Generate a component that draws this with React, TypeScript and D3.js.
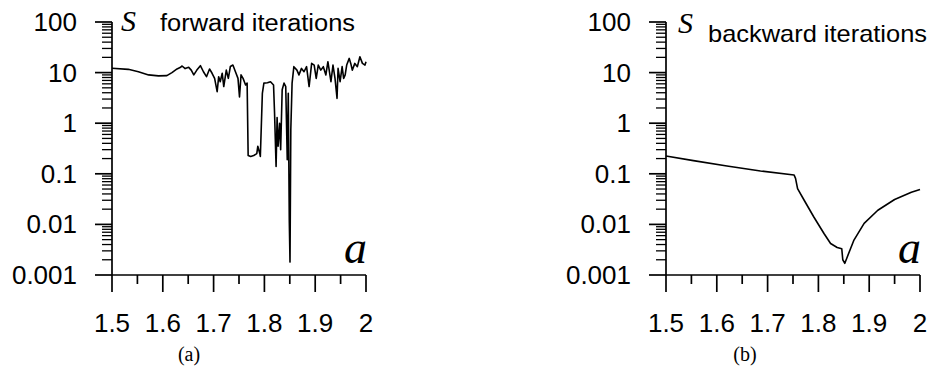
import React from "react";
import * as d3 from "d3";

// ---- data ----
const forwardA = [
  1.5, 1.532, 1.552, 1.572, 1.5915, 1.608, 1.618, 1.628, 1.634, 1.638, 1.644, 1.651, 1.656, 1.661, 1.667,
  1.674, 1.68, 1.686, 1.692, 1.697, 1.702, 1.707, 1.71, 1.713, 1.717, 1.72, 1.725, 1.729, 1.733,
  1.738, 1.743, 1.748, 1.751, 1.754, 1.758, 1.763, 1.766, 1.768, 1.773, 1.779, 1.785, 1.787, 1.791,
  1.792, 1.796, 1.799, 1.806, 1.812, 1.818, 1.82, 1.823, 1.825, 1.827, 1.83, 1.832, 1.835, 1.8386,
  1.842, 1.845, 1.847, 1.849, 1.8504, 1.852, 1.8545, 1.858, 1.864, 1.868, 1.873, 1.878, 1.883,
  1.888, 1.893, 1.898, 1.902, 1.906, 1.911, 1.916, 1.921, 1.925, 1.931, 1.935, 1.939, 1.943, 1.945,
  1.949, 1.953, 1.956, 1.959, 1.962, 1.967, 1.97, 1.973, 1.978, 1.983, 1.988, 1.993, 1.998, 2.0,
];
const forwardS = [
  12.2, 11.6, 10.4, 9.0, 8.6, 8.7, 10, 11.8, 12.6, 13.5, 12, 12.7, 11.2, 9.0, 11.2,
  13.7, 10.4, 8.3, 11.8, 9.7, 7.7, 4.2, 8.3, 6.6, 9.7, 5.3, 11.2, 7.7, 13.2,
  14.1, 10.4, 7.7, 3.3, 9.0, 7.7, 5.7, 6.2, 0.23, 0.22, 0.23, 0.25, 0.35, 0.25,
  0.22, 3.9, 6.2, 6.3, 6.6, 5.7, 1.57, 0.14, 1.3, 0.35, 1.0, 0.3, 4.6, 6.2,
  5.3, 0.19, 3.9, 0.012, 0.0018, 0.74, 6.2, 13.1, 11.2, 9.0, 12.1, 10.4, 13.1,
  5.3, 15.2, 14.1, 7.7, 14.1, 11.2, 13.1, 9.0, 16.4, 6.6, 14.1, 7.7, 3.1, 12.1,
  6.6, 13.1, 7.7, 9.0, 14.1, 19.1, 15.2, 11.2, 15.2, 13.1, 20.6, 15.2, 14.1, 16.4,
];

const backwardA = [
  1.5, 1.554, 1.62, 1.686, 1.752, 1.755, 1.759, 1.772, 1.791, 1.811, 1.824, 1.837, 1.846, 1.848,
  1.852, 1.857, 1.87, 1.89, 1.917, 1.95, 1.983, 2.0,
];
const backwardS = [
  0.225, 0.182, 0.143, 0.114, 0.095, 0.081, 0.051, 0.03, 0.014, 0.0066, 0.0042, 0.0035, 0.0033, 0.002,
  0.0017, 0.0023, 0.0049, 0.0105, 0.019, 0.031, 0.043, 0.049,
];

const xTickLabels = ["1.5", "1.6", "1.7", "1.8", "1.9", "2"];
const xMajor = [1.5, 1.6, 1.7, 1.8, 1.9, 2.0];
const xMinor = [1.55, 1.65, 1.75, 1.85, 1.95];
const yMajor = [0.001, 0.01, 0.1, 1, 10, 100];
const yTickLabels = ["0.001", "0.01", "0.1", "1", "10", "100"];

const panels = [
  { x0: 112, title: "forward iterations", titleX: 160, titleY: 31, titleSize: 23, titleLen: 195, sX: 121, sY: 31, label: "(a)", labelX: 189, a: forwardA, s: forwardS },
  { x0: 666, title: "backward iterations", titleX: 708, titleY: 42, titleSize: 24, titleLen: 219, sX: 678, sY: 33, label: "(b)", labelX: 745, a: backwardA, s: backwardS },
];

const W = 254;
const TOP = 22;
const BOTTOM = 275;

function Panel({ p }: { p: any }) {
  const x = d3.scaleLinear().domain([1.5, 2.0]).range([p.x0, p.x0 + W]);
  const y = d3.scaleLog().domain([0.001, 100]).range([BOTTOM, TOP]);
  const minorY = y.ticks().filter((v) => {
    const l = Math.log10(v);
    return Math.abs(l - Math.round(l)) > 1e-6;
  });
  const data = p.a.map((a: number, i: number) => [a, p.s[i]] as [number, number]);
  const line = d3
    .line<[number, number]>()
    .x((d) => x(d[0]))
    .y((d) => y(d[1]));
  const axisX = x(1.5);
  const sans = "'Liberation Sans', Arial, sans-serif";
  const serif = "'Liberation Serif', 'Times New Roman', serif";
  return (
    <g>
      {/* y axis */}
      {minorY.map((v, i) => (
        <line key={"yn" + i} x1={axisX - 10} x2={axisX} y1={y(v)} y2={y(v)} stroke="#000" strokeWidth={1.3} />
      ))}
      <line x1={axisX} x2={axisX} y1={y(100)} y2={y(0.001)} stroke="#000" strokeWidth={1.7} />
      {yMajor.map((v) => (
        <line key={"ym" + v} x1={axisX - 17} x2={axisX} y1={y(v)} y2={y(v)} stroke="#000" strokeWidth={1.7} />
      ))}
      {yMajor.map((v, i) => (
        <text key={"yl" + v} x={axisX - 35} y={y(v) + 9} textAnchor="end" fontFamily={sans} fontSize={26} fill="#000">
          {yTickLabels[i]}
        </text>
      ))}
      {/* x axis */}
      <line x1={axisX} x2={x(2.0)} y1={BOTTOM} y2={BOTTOM} stroke="#000" strokeWidth={1.7} />
      {xMajor.map((v) => (
        <line key={"xm" + v} x1={x(v)} x2={x(v)} y1={BOTTOM} y2={BOTTOM + 17} stroke="#000" strokeWidth={1.7} />
      ))}
      {xMinor.map((v) => (
        <line key={"xn" + v} x1={x(v)} x2={x(v)} y1={BOTTOM} y2={BOTTOM + 9} stroke="#000" strokeWidth={1.7} />
      ))}
      {xMajor.map((v, i) => (
        <text key={"xl" + v} x={x(v)} y={332} textAnchor="middle" fontFamily={sans} fontSize={26} fill="#000">
          {xTickLabels[i]}
        </text>
      ))}
      {/* curve */}
      <path d={line(data) || ""} fill="none" stroke="#000" strokeWidth={1.6} strokeLinejoin="round" />
      {/* labels */}
      <text x={p.sX} y={p.sY} fontFamily={serif} fontStyle="italic" fontSize={30} fill="#000">S</text>
      <text x={p.titleX} y={p.titleY} fontFamily={sans} fontSize={p.titleSize} textLength={p.titleLen} lengthAdjust="spacingAndGlyphs" fill="#000">
        {p.title}
      </text>
      <text x={x(2.0) + 1} y={263} textAnchor="end" fontFamily={serif} fontStyle="italic" fontSize={46} fill="#000">a</text>
      <text x={p.labelX} y={361} textAnchor="middle" fontFamily={serif} fontSize={20} fill="#000">{p.label}</text>
    </g>
  );
}

export default function App() {
  return (
    <svg width={932} height={367} style={{ position: "absolute", left: 0, top: 0, background: "#fff" }}>
      <rect width={932} height={367} fill="#fff" />
      {panels.map((p, i) => (
        <Panel key={i} p={p} />
      ))}
    </svg>
  );
}
